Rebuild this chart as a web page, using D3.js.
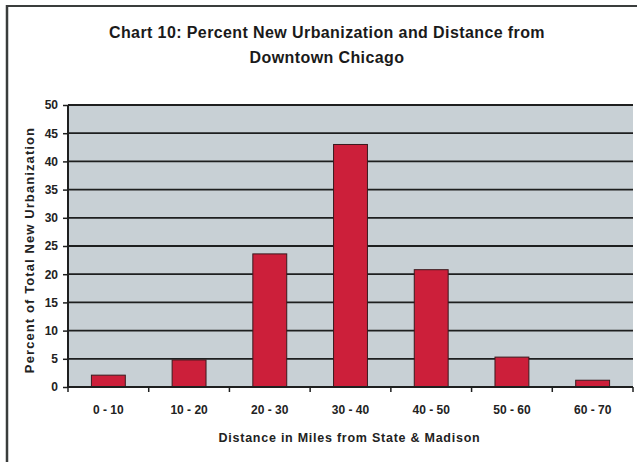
<!DOCTYPE html>
<html>
<head>
<meta charset="utf-8">
<script src="https://cdn.jsdelivr.net/npm/d3@7/dist/d3.min.js"></script>
<style>
  html, body { margin: 0; padding: 0; background: #fff; }
  svg { display: block; font-family: "Liberation Sans", Arial, sans-serif; }
</style>
</head>
<body>
<svg id="chart" width="637" height="462"></svg>
<script>
// Distance bands (miles from State & Madison) and share of new urbanization (%)
const categories = ["0 - 10", "10 - 20", "20 - 30", "30 - 40", "40 - 50", "50 - 60", "60 - 70"];
const percentValues = [2.1, 4.8, 23.6, 43, 20.8, 5.3, 1.2];
const yTicks = [0, 5, 10, 15, 20, 25, 30, 35, 40, 45, 50];
const titleLines = ["Chart 10: Percent New Urbanization and Distance from", "Downtown Chicago"];
const xTitle = "Distance in Miles from State & Madison";
const yTitle = "Percent of Total New Urbanization";

const svg = d3.select("#chart");
const W = 637, H = 462;
const m = { left: 68, right: 4, top: 105, bottom: 75 };
const plotW = W - m.left - m.right;
const plotH = H - m.top - m.bottom;

// outer frame (top and left edges)
svg.append("line").attr("x1", 6).attr("x2", W).attr("y1", 6).attr("y2", 6)
  .attr("stroke", "#3a3d3c").attr("stroke-width", 2);
svg.append("line").attr("x1", 7).attr("x2", 7).attr("y1", 5).attr("y2", H)
  .attr("stroke", "#3a3d3c").attr("stroke-width", 2.5);

// title
svg.append("g").selectAll("text").data(titleLines).join("text")
  .attr("x", 327).attr("y", (d, i) => 38 + i * 25)
  .attr("text-anchor", "middle")
  .attr("font-size", 16).attr("font-weight", "bold").attr("fill", "#1a1a1a")
  .attr("letter-spacing", 0.4)
  .text(d => d);

const g = svg.append("g").attr("transform", `translate(${m.left},${m.top})`);

const x = d3.scaleBand().domain(categories).range([0, plotW]).paddingInner(0.58).paddingOuter(0.29);
const xStep = d3.scalePoint().domain(d3.range(categories.length + 1)).range([0, plotW]);
const y = d3.scaleLinear().domain([0, 50]).range([plotH, 0]);

// plot background
g.append("rect").attr("x", 0).attr("y", 0).attr("width", plotW).attr("height", plotH)
  .attr("fill", "#c8d0d5");

// gridlines
g.append("g").selectAll("line").data(yTicks.filter(t => t > 0)).join("line")
  .attr("x1", 0).attr("x2", plotW)
  .attr("y1", d => y(d)).attr("y2", d => y(d))
  .attr("stroke", "#1e1f1f").attr("stroke-width", 1.8);

// bars
g.append("g").selectAll("rect").data(percentValues).join("rect")
  .attr("x", (d, i) => x(categories[i]))
  .attr("y", d => y(d))
  .attr("width", x.bandwidth())
  .attr("height", d => plotH - y(d))
  .attr("fill", "#cc1f3a")
  .attr("stroke", "#3a1a1e").attr("stroke-width", 1);

// y axis
const yAxis = g.append("g").call(d3.axisLeft(y).tickValues(yTicks).tickSize(5).tickPadding(5));
yAxis.select(".domain").attr("stroke", "#1e1f1f").attr("stroke-width", 2).attr("d", `M-0,${plotH}V0`);
yAxis.selectAll(".tick line").attr("stroke", "#1e1f1f").attr("stroke-width", 1.5);
yAxis.selectAll("text").attr("font-size", 12).attr("font-weight", "bold")
  .attr("fill", "#222").attr("font-family", "'Liberation Sans', Arial, sans-serif");

// x axis line with category boundary ticks
const xAxisG = g.append("g").attr("transform", `translate(0,${plotH})`);
xAxisG.append("line").attr("x1", 0).attr("x2", plotW).attr("y1", 0).attr("y2", 0)
  .attr("stroke", "#1e1f1f").attr("stroke-width", 2);
xAxisG.selectAll("line.tk").data(xStep.domain()).join("line").attr("class", "tk")
  .attr("x1", d => xStep(d)).attr("x2", d => xStep(d)).attr("y1", 0).attr("y2", 5)
  .attr("stroke", "#1e1f1f").attr("stroke-width", 1.5);
xAxisG.selectAll("text").data(categories).join("text")
  .attr("x", d => x(d) + x.bandwidth() / 2).attr("y", 27)
  .attr("text-anchor", "middle")
  .attr("font-size", 12).attr("font-weight", "bold").attr("fill", "#222")
  .text(d => d);

// axis titles
svg.append("text").attr("x", m.left + plotW / 2 - 1).attr("y", 442)
  .attr("text-anchor", "middle").attr("font-size", 12.5).attr("font-weight", "bold")
  .attr("letter-spacing", 0.75)
  .attr("fill", "#222").text(xTitle);
svg.append("text")
  .attr("transform", `translate(34,${m.top + plotH / 2 + 4}) rotate(-90)`)
  .attr("text-anchor", "middle").attr("font-size", 13).attr("font-weight", "bold")
  .attr("letter-spacing", 1.1)
  .attr("fill", "#222").text(yTitle);
</script>
</body>
</html>
